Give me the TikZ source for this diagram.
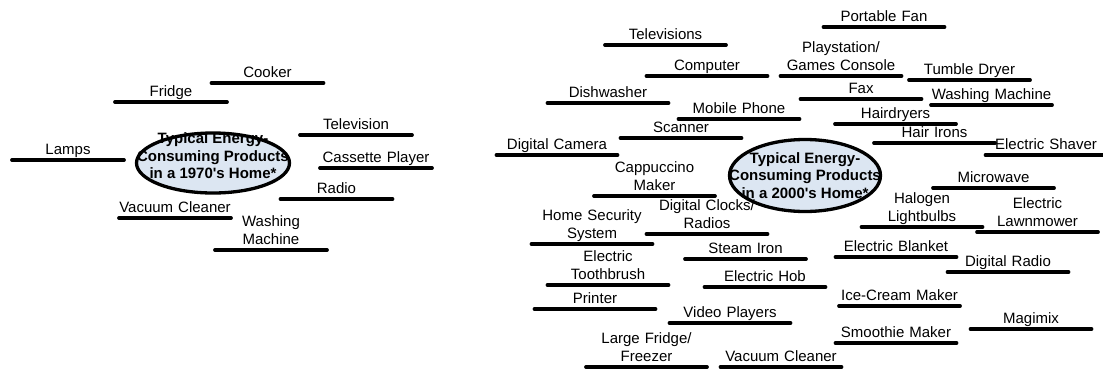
\documentclass[tikz,border=0pt]{standalone}
\usepackage{fontspec}
\setmainfont{Liberation Sans}
\usetikzlibrary{shapes.geometric}
\definecolor{hubfill}{RGB}{220,230,242}

\begin{document}
\begin{tikzpicture}[
  x=1pt, y=-1pt,
  item/.style={anchor=south,text width=121pt,inner xsep=0pt,inner ysep=0.5pt,align=center,
    font=\fontsize{15}{17.6}\selectfont,execute at end node=\strut},
  olditem/.style={item,text width=112pt},
  bar/.style={line width=3.3pt,line cap=round},
  hub/.style={ellipse,draw,line width=3.3pt,fill=hubfill,inner sep=0pt},
  hubtext/.style={align=center,font=\fontsize{15}{17.6}\selectfont\bfseries}
]
  \useasboundingbox (0,0) rectangle (1103,370);

  \node[hub,minimum width=153pt,minimum height=60pt] (oldhub) at (213,163) {};
  \node[hubtext] (oldhubtext) at (oldhub.center) [yshift=7pt] {Typical Energy-\\Consuming Products\\in a 1970\textquotesingle s Home*};
  \node[hub,minimum width=151pt,minimum height=72pt] (newhub) at (805,175.5) {};
  \node[hubtext] (newhubtext) at (newhub.center) {Typical Energy-\\Consuming Products\\in a 2000\textquotesingle s Home*};

  \node[olditem] (cooker) at (267.5,83) {Cooker};
  \node[olditem] (fridge) at (171,102) {Fridge};
  \node[olditem] (television) at (356,135) {Television};
  \node[olditem] (lamps) at (68,160) {Lamps};
  \node[olditem] (cassette) at (376,168) {Cassette Player};
  \node[olditem] (radio) at (336.5,199) {Radio};
  \node[olditem] (oldvacuum) at (175,218) {Vacuum Cleaner};
  \node[olditem] (oldwashing) at (271,250) {Washing\\Machine};

  \node[item] (televisions) at (665.5,45) {Televisions};
  \node[item] (computer) at (707,76) {Computer};
  \node[item] (dishwasher) at (608,103) {Dishwasher};
  \node[item] (mobile) at (739,119) {Mobile Phone};
  \node[item] (scanner) at (681,138) {Scanner};
  \node[item] (camera) at (557,155) {Digital Camera};
  \node[item] (cappuccino) at (654.5,196) {Cappuccino\\Maker};
  \node[item] (fan) at (884,27) {Portable Fan};
  \node[item] (playstation) at (841,76) {Playstation/\\Games Console};
  \node[item] (dryer) at (969.5,80) {Tumble Dryer};
  \node[item] (fax) at (861,99) {Fax};
  \node[item] (washing) at (991.5,105) {Washing Machine};
  \node[item] (hairdryers) at (895.5,124) {Hairdryers};
  \node[item] (irons) at (934.5,143) {Hair Irons};
  \node[item] (shaver) at (1046,155) {Electric Shaver};
  \node[item] (microwave) at (993.5,188) {Microwave};
  \node[item] (halogen) at (922,227) {Halogen\\Lightbulbs};
  \node[item] (lawnmower) at (1037.5,232) {Electric\\Lawnmower};
  \node[item] (blanket) at (896,257) {Electric Blanket};
  \node[item] (digiradio) at (1008,272) {Digital Radio};
  \node[item] (icecream) at (899.5,306) {Ice-Cream Maker};
  \node[item] (magimix) at (1031,329) {Magimix};
  \node[item] (smoothie) at (896,343) {Smoothie Maker};
  \node[item] (clocks) at (707,234) {Digital Clocks/\\Radios};
  \node[item] (security) at (592,244) {Home Security\\System};
  \node[item] (steamiron) at (745.5,259) {Steam Iron};
  \node[item] (toothbrush) at (608,285) {Electric\\Toothbrush};
  \node[item] (hob) at (765,287) {Electric Hob};
  \node[item] (printer) at (595,309) {Printer};
  \node[item] (video) at (730,323) {Video Players};
  \node[item] (bigfridge) at (646.5,367) {Large Fridge/\\Freezer};
  \node[item] (vacuum) at (781,367) {Vacuum Cleaner};

  \foreach \n in {cooker,fridge,television,lamps,cassette,radio,oldvacuum,oldwashing,
    televisions,computer,dishwasher,mobile,scanner,camera,cappuccino,fan,playstation,
    dryer,fax,washing,hairdryers,irons,shaver,microwave,halogen,lawnmower,blanket,
    digiradio,icecream,magimix,smoothie,clocks,security,steamiron,toothbrush,hob,
    printer,video,bigfridge,vacuum}
    \draw[bar] (\n.south west) -- (\n.south east);
\end{tikzpicture}
\end{document}
